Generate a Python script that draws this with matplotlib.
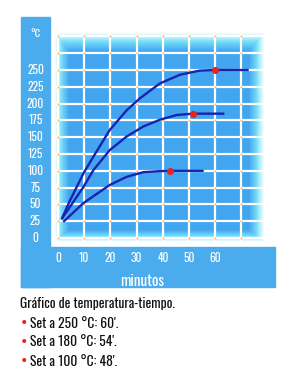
import numpy as np
import matplotlib
matplotlib.use("Agg")
import matplotlib.pyplot as plt
from matplotlib.patches import Rectangle

# ---- data ----
x_ticks = [0, 10, 20, 30, 40, 50, 60]
y_ticks = [0, 25, 50, 75, 100, 125, 150, 175, 200, 225, 250]

t_250 = [1.4, 4.6, 9.7, 13.5, 19.8, 26.2, 31.3, 38.9, 46.6, 54.0, 60.0, 72.8]
T_250 = [28, 56, 96, 121, 161, 190, 208, 230, 243, 249, 250, 250]

t_180 = [1.4, 9.7, 13.5, 19.8, 26.2, 32.6, 38.9, 45.3, 51.5, 63.5]
T_180 = [28, 76, 101, 131, 151, 166, 176, 183, 185, 185]

t_100 = [2.0, 9.7, 19.8, 26.2, 32.6, 38.9, 42.7, 55.6]
T_100 = [24, 52, 79, 91, 98, 99.5, 100, 100]

set_t = [60.0, 51.5, 42.7]
set_T = [250, 185, 100]

caption_title = "Gráfico de temperatura-tiempo."
caption_items = ["Set a 250 °C: 60'.", "Set a 180 °C: 54'.", "Set a 100 °C: 48'."]

# ---- figure ----
W, H = 297, 377
fig = plt.figure(figsize=(W / 100, H / 100), dpi=100)
fig.patch.set_facecolor("white")
renderer = fig.canvas.get_renderer()

def fx(x):
    return x / W

def fy(y):
    return 1 - y / H

def fit_size(s, target_px, base=10, **kw):
    t = fig.text(0, 0, s, fontsize=base, **kw)
    w = t.get_window_extent(renderer=renderer).width
    t.remove()
    return base * target_px / w

panel_blue = "#4aacec"
fig.patches.append(Rectangle((fx(21), fy(287)), fx(50) - fx(21), fy(17) - fy(287),
                             transform=fig.transFigure, color=panel_blue, zorder=0))
fig.patches.append(Rectangle((fx(21), fy(287)), fx(275) - fx(21), fy(247) - fy(287),
                             transform=fig.transFigure, color=panel_blue, zorder=0))

# plot area
L, R, Tp, B = 52, 267, 30, 244
ax = fig.add_axes([fx(L), fy(B), fx(R) - fx(L), fy(Tp) - fy(B)])
x0px, xs = 58, 2.62
y0px, ys = 238, 0.672
xlim = ((L - x0px) / xs, (R - x0px) / xs)
ylim = ((y0px - B) / ys, (y0px - Tp) / ys)
ax.set_xlim(*xlim)
ax.set_ylim(*ylim)
for s in ax.spines.values():
    s.set_visible(False)
ax.set_xticks([])
ax.set_yticks([])

# glowing background
nw, nh = R - L, B - Tp
xx, yy = np.meshgrid(np.arange(nw) + 0.5, np.arange(nh) + 0.5)
g = np.zeros_like(xx)
for d, w in ((xx, 17.0), (nw - xx, 18.0), (yy, 22.0), (nh - yy, 14.0)):
    g = np.maximum(g, np.clip(1 - d / w, 0, 1))
blue = np.array([0.26, 0.65, 0.94])
cyan = np.array([0.50, 0.90, 0.98])
white = np.array([1.0, 1.0, 1.0])
a = np.clip(g / 0.5, 0, 1)[..., None]
b = np.clip((g - 0.45) / 0.4, 0, 1)[..., None]
img = blue * (1 - a) + cyan * a
img = img * (1 - b) + white * b
ax.imshow(img, extent=(xlim[0], xlim[1], ylim[0], ylim[1]), aspect="auto",
          origin="upper", zorder=0, interpolation="bilinear")

grid_x = np.arange(0, 80, 10)
grid_y = np.arange(0, 301, 25)
for gx in grid_x:
    ax.axvline(gx, color="white", lw=1.6, zorder=1)
for gy in grid_y:
    ax.axhline(gy, color="white", lw=1.6, zorder=1)
GX, GY = np.meshgrid(grid_x, grid_y)
ax.scatter(GX.ravel(), GY.ravel(), s=2.5, color="#f6c27a", lw=0, zorder=2)

line_c = "#1a22b0"
for t, T in ((t_250, T_250), (t_180, T_180), (t_100, T_100)):
    ax.plot(t, T, color=line_c, lw=1.7, zorder=3, solid_capstyle="butt")
ax.scatter(set_t, set_T, s=26, color="#e8231e", lw=0, zorder=4)

# tick labels
lab_kw = dict(family=["Oswald", "Barlow Condensed", "DejaVu Sans"], fontweight="bold")
lab_size = fit_size("250", 17, **lab_kw)
for v in y_ticks:
    fig.text(fx(35.5), fy(y0px - v * ys), str(v), ha="center", va="center",
             color="white", fontsize=lab_size, **lab_kw)
for v in x_ticks:
    fig.text(fx(x0px + v * xs), fy(258), str(v), ha="center", va="center",
             color="white", fontsize=lab_size, **lab_kw)
deg_size = fit_size("°C", 10, **lab_kw)
fig.text(fx(35.5), fy(34), "°C", ha="center", va="center", color="white",
         fontsize=deg_size, **lab_kw)
min_size = fit_size("minutos", 44, **lab_kw)
fig.text(fx(142), fy(282), "minutos", ha="center", va="center", color="white",
         fontsize=min_size, **lab_kw)

# caption
cap_kw = dict(family=["Oswald", "Barlow Condensed", "DejaVu Sans"], fontweight="light")
title_size = fit_size(caption_title, 154, **cap_kw)
item_size = fit_size(caption_items[0], 88, **cap_kw)
fig.text(fx(20), fy(304), caption_title, ha="left", va="center", color="#111111",
         fontsize=title_size, **cap_kw)
for i, item in enumerate(caption_items):
    yy_ = 323 + i * 19
    fig.text(fx(20.5), fy(yy_), "•", ha="left", va="center", color="#e8231e",
             fontsize=item_size * 1.3, **cap_kw)
    fig.text(fx(30), fy(yy_), item, ha="left", va="center", color="#111111",
             fontsize=item_size, **cap_kw)

fig.savefig("out.png", dpi=100, facecolor="white")
